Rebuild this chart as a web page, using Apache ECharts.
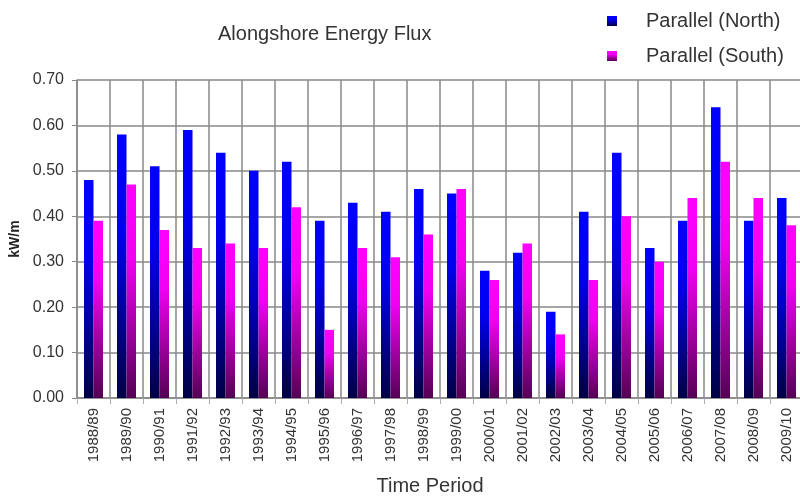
<!DOCTYPE html>
<html>
<head>
<meta charset="utf-8">
<script src="https://cdn.jsdelivr.net/npm/echarts@6/dist/echarts.min.js"></script>
<style>
html,body{margin:0;padding:0;background:#fff;}
#chart{width:800px;height:497px;}
</style>
</head>
<body>
<div id="chart"></div>
<script>
var categories = ['1988/89','1989/90','1990/91','1991/92','1992/93','1993/94','1994/95','1995/96','1996/97','1997/98','1998/99','1999/00','2000/01','2001/02','2002/03','2003/04','2004/05','2005/06','2006/07','2007/08','2008/09','2009/10'];
var northValues = [0.48,0.58,0.51,0.59,0.54,0.50,0.52,0.39,0.43,0.41,0.46,0.45,0.28,0.32,0.19,0.41,0.54,0.33,0.39,0.64,0.39,0.44];
var southValues = [0.39,0.47,0.37,0.33,0.34,0.33,0.42,0.15,0.33,0.31,0.36,0.46,0.26,0.34,0.14,0.26,0.40,0.30,0.44,0.52,0.44,0.38];
var seriesNames = ['Parallel (North)','Parallel (South)'];

var FONT = '"Liberation Sans", Arial, Helvetica, sans-serif';
function grad(top, mid, bottom) {
  return new echarts.graphic.LinearGradient(0, 0, 0, 1, [
    {offset: 0, color: top},
    {offset: 0.35, color: mid},
    {offset: 1, color: bottom}
  ]);
}
var chart = echarts.init(document.getElementById('chart'), null, {renderer: 'canvas'});
chart.setOption({
  animation: false,
  backgroundColor: '#ffffff',
  textStyle: {fontFamily: FONT},
  title: {
    text: 'Alongshore Energy Flux',
    left: 213, top: 19,
    textStyle: {fontFamily: FONT, fontSize: 20, fontWeight: 'normal', color: '#333'}
  },
  legend: {
    orient: 'vertical',
    left: 602, top: 6,
    itemWidth: 10, itemHeight: 10,
    icon: 'rect',
    itemGap: 15,
    data: seriesNames,
    textStyle: {fontFamily: FONT, fontSize: 20, color: '#333', padding: [0, 0, 0, 24]}
  },
  grid: {left: 77, right: -3, top: 80, bottom: 99, containLabel: false, outerBoundsMode: 'none'},
  xAxis: {
    type: 'category',
    data: categories,
    name: 'Time Period',
    nameLocation: 'middle',
    nameGap: 78,
    nameTextStyle: {fontFamily: FONT, fontSize: 20, color: '#333', padding: [0, 20, 0, 0]},
    axisLine: {show: true, lineStyle: {color: '#888', width: 1.5}},
    axisTick: {show: true, alignWithLabel: false, length: 6, lineStyle: {color: '#aab'}},
    axisLabel: {rotate: 90, interval: 0, margin: 10, fontSize: 15, color: '#333', fontFamily: FONT},
    splitLine: {show: true, interval: 0, lineStyle: {color: '#888', width: 1.5}}
  },
  yAxis: {
    type: 'value',
    min: 0, max: 0.7, interval: 0.1,
    name: 'kW/m',
    nameLocation: 'middle',
    nameGap: 55,
    nameTextStyle: {fontFamily: FONT, fontSize: 14, fontWeight: 'bold', color: '#222'},
    axisLine: {show: true, lineStyle: {color: '#888', width: 1.5}},
    axisTick: {show: true, length: 5, lineStyle: {color: '#888'}},
    axisLabel: {margin: 13, fontSize: 16, color: '#333', fontFamily: FONT,
      formatter: function (v) { return v.toFixed(2); }},
    splitLine: {show: true, lineStyle: {color: '#888', width: 1.5}}
  },
  series: [
    {
      name: seriesNames[0], type: 'bar', data: northValues,
      barWidth: 9.5, barGap: '0%',
      itemStyle: {color: grad('#0000ff', '#0000ee', '#000045')}
    },
    {
      name: seriesNames[1], type: 'bar', data: southValues,
      barWidth: 9.5, barGap: '0%',
      itemStyle: {color: grad('#ff00ff', '#f000f0', '#550055')}
    }
  ]
});
</script>
</body>
</html>
